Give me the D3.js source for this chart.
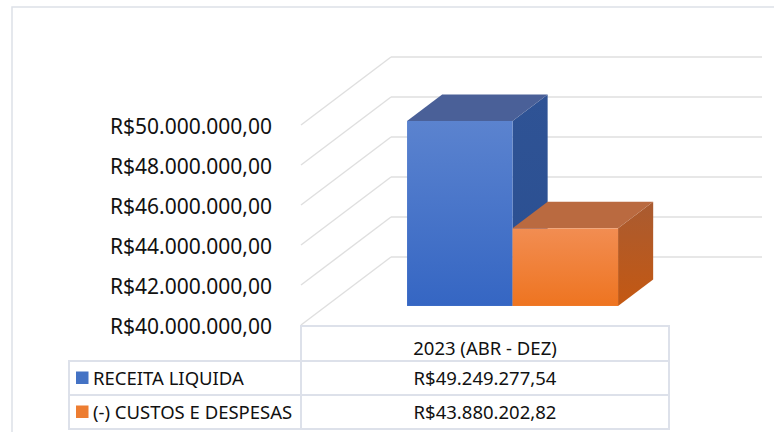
<!DOCTYPE html>
<html>
<head>
<meta charset="utf-8">
<script src="https://cdn.jsdelivr.net/npm/d3@7"></script>
<style>
  html, body { margin: 0; padding: 0; background: #fff; }
  svg { display: block; font-family: "Noto Sans", "Open Sans", sans-serif; }
</style>
</head>
<body>
<div id="chart"></div>
<script>
// data
const categories = ['2023 (ABR - DEZ)'];
const seriesNames = ['RECEITA LIQUIDA', '(-) CUSTOS E DESPESAS'];
const receitaLiquida = [49249277.54];
const custosDespesas = [43880202.82];
const yTicks = [40000000, 42000000, 44000000, 46000000, 48000000, 50000000];

const W = 774, H = 432;
const depth = { dx: 90, dy: -68 };      // front plane -> back wall
const barDepth = [0.28, 0.67];          // bars sit inside the box
const plot = { left: 301, right: 669, top: 125, bottom: 325 };

const ptBR = d3.formatLocale({ decimal: ',', thousands: '.', grouping: [3], currency: ['R$', ''] });
const money = ptBR.format('$,.2f');

const svg = d3.select('#chart').append('svg')
  .attr('width', W)
  .attr('height', H);

const defs = svg.append('defs');
function grad(id, c0, c1) {
  const g = defs.append('linearGradient').attr('id', id)
    .attr('x1', 0).attr('y1', 0).attr('x2', 0).attr('y2', 1);
  g.append('stop').attr('offset', '0%').attr('stop-color', c0);
  g.append('stop').attr('offset', '100%').attr('stop-color', c1);
}
grad('blueFront', '#5b83cf', '#3566c3');
grad('blueSide', '#2f5395', '#2a4f91');
grad('orangeFront', '#f28d52', '#ee7420');
grad('orangeSide', '#a95b31', '#c45812');

const palette = [
  { front: 'url(#blueFront)', top: '#4a6098', side: 'url(#blueSide)', key: '#4472c4' },
  { front: 'url(#orangeFront)', top: '#ba6a40', side: 'url(#orangeSide)', key: '#ed7d31' }
];

// chart frame
svg.append('rect')
  .attr('x', 12).attr('y', 7)
  .attr('width', 800).attr('height', 500)
  .attr('fill', 'none')
  .attr('stroke', '#dde1e8')
  .attr('stroke-width', 1.5);

// scales
const y = d3.scaleLinear().domain([40000000, 50000000]).range([plot.bottom, plot.top]);
const x = d3.scaleBand().domain(categories).range([plot.left, plot.right]);
const xs = d3.scaleBand().domain(seriesNames).range([0, x.bandwidth()])
  .paddingInner(0).paddingOuter(0.744).align(0.515);

// walls
const grid = svg.append('g').attr('class', 'grid')
  .attr('stroke', '#dfdfdf').attr('stroke-width', 1.4).attr('fill', 'none');

grid.selectAll('.side').data(yTicks).enter().append('line')
  .attr('x1', plot.left).attr('y1', d => y(d))
  .attr('x2', plot.left + depth.dx).attr('y2', d => y(d) + depth.dy);

grid.selectAll('.back').data(yTicks).enter().append('line')
  .attr('x1', plot.left + depth.dx).attr('y1', d => y(d) + depth.dy)
  .attr('x2', 762).attr('y2', d => y(d) + depth.dy);

// y axis (labels only)
const yAxis = svg.append('g')
  .attr('class', 'axis axis-y')
  .attr('transform', 'translate(272, 2)')
  .call(d3.axisLeft(y).tickValues(yTicks).tickFormat(money).tickSize(0).tickPadding(0));
yAxis.select('.domain').remove();
yAxis.selectAll('text')
  .attr('fill', '#111')
  .style('font-family', '"Noto Sans", "Open Sans", sans-serif')
  .style('font-size', '21px');

// 3d bars
const series = [receitaLiquida, custosDespesas];
const f0 = barDepth[0], f1 = barDepth[1];
const bars = svg.append('g').attr('class', 'bars');

series.forEach((vals, si) => {
  vals.forEach((v, ci) => {
    const xa = x(categories[ci]) + xs(seriesNames[si]);
    const xb = xa + xs.bandwidth();
    const yt = y(v), yb = y(40000000);
    const P = (px, py, f) => [px + f * depth.dx, py + f * depth.dy];
    const col = palette[si];
    const g = bars.append('g');

    // right side
    g.append('polygon')
      .attr('points', [P(xb, yt, f0), P(xb, yt, f1), P(xb, yb, f1), P(xb, yb, f0)].map(p => p.join(',')).join(' '))
      .attr('fill', col.side);
    // top
    g.append('polygon')
      .attr('points', [P(xa, yt, f0), P(xb, yt, f0), P(xb, yt, f1), P(xa, yt, f1)].map(p => p.join(',')).join(' '))
      .attr('fill', col.top);
    // front
    const fa = P(xa, yt, f0), fb = P(xb, yb, f0);
    g.append('rect')
      .attr('x', fa[0]).attr('y', fa[1])
      .attr('width', fb[0] - fa[0]).attr('height', fb[1] - fa[1])
      .attr('fill', col.front);
  });
});

// data table
const table = { left: 69, top: 326, header: 35, row: 34 };
const rowTop = i => table.top + table.header + i * table.row;
const tbl = svg.append('g').attr('class', 'table')
  .attr('stroke', '#dde1ea').attr('stroke-width', 2).attr('fill', 'none');

tbl.append('rect')
  .attr('x', plot.left).attr('y', table.top)
  .attr('width', plot.right - plot.left).attr('height', table.header);
seriesNames.forEach((s, i) => {
  tbl.append('rect')
    .attr('x', table.left).attr('y', rowTop(i))
    .attr('width', plot.left - table.left).attr('height', table.row);
  tbl.append('rect')
    .attr('x', plot.left).attr('y', rowTop(i))
    .attr('width', plot.right - plot.left).attr('height', table.row);
});

const txt = svg.append('g').attr('class', 'table-text')
  .attr('fill', '#111')
  .style('font-size', '18.5px');

categories.forEach(c => {
  txt.append('text')
    .attr('x', x(c) + x.bandwidth() / 2).attr('y', table.top + 29)
    .attr('text-anchor', 'middle')
    .text(c);
});

seriesNames.forEach((s, i) => {
  const cy = rowTop(i) + table.row / 2;
  svg.append('rect')
    .attr('x', 76).attr('y', cy - 6.5)
    .attr('width', 12.5).attr('height', 12.5)
    .attr('fill', palette[i].key);
  txt.append('text')
    .attr('x', 93).attr('y', cy + 6.5)
    .text(s);
  categories.forEach((c, ci) => {
    txt.append('text')
      .attr('x', x(c) + x.bandwidth() / 2).attr('y', cy + 6.5)
      .attr('text-anchor', 'middle')
      .text(money(series[i][ci]));
  });
});
</script>
</body>
</html>
